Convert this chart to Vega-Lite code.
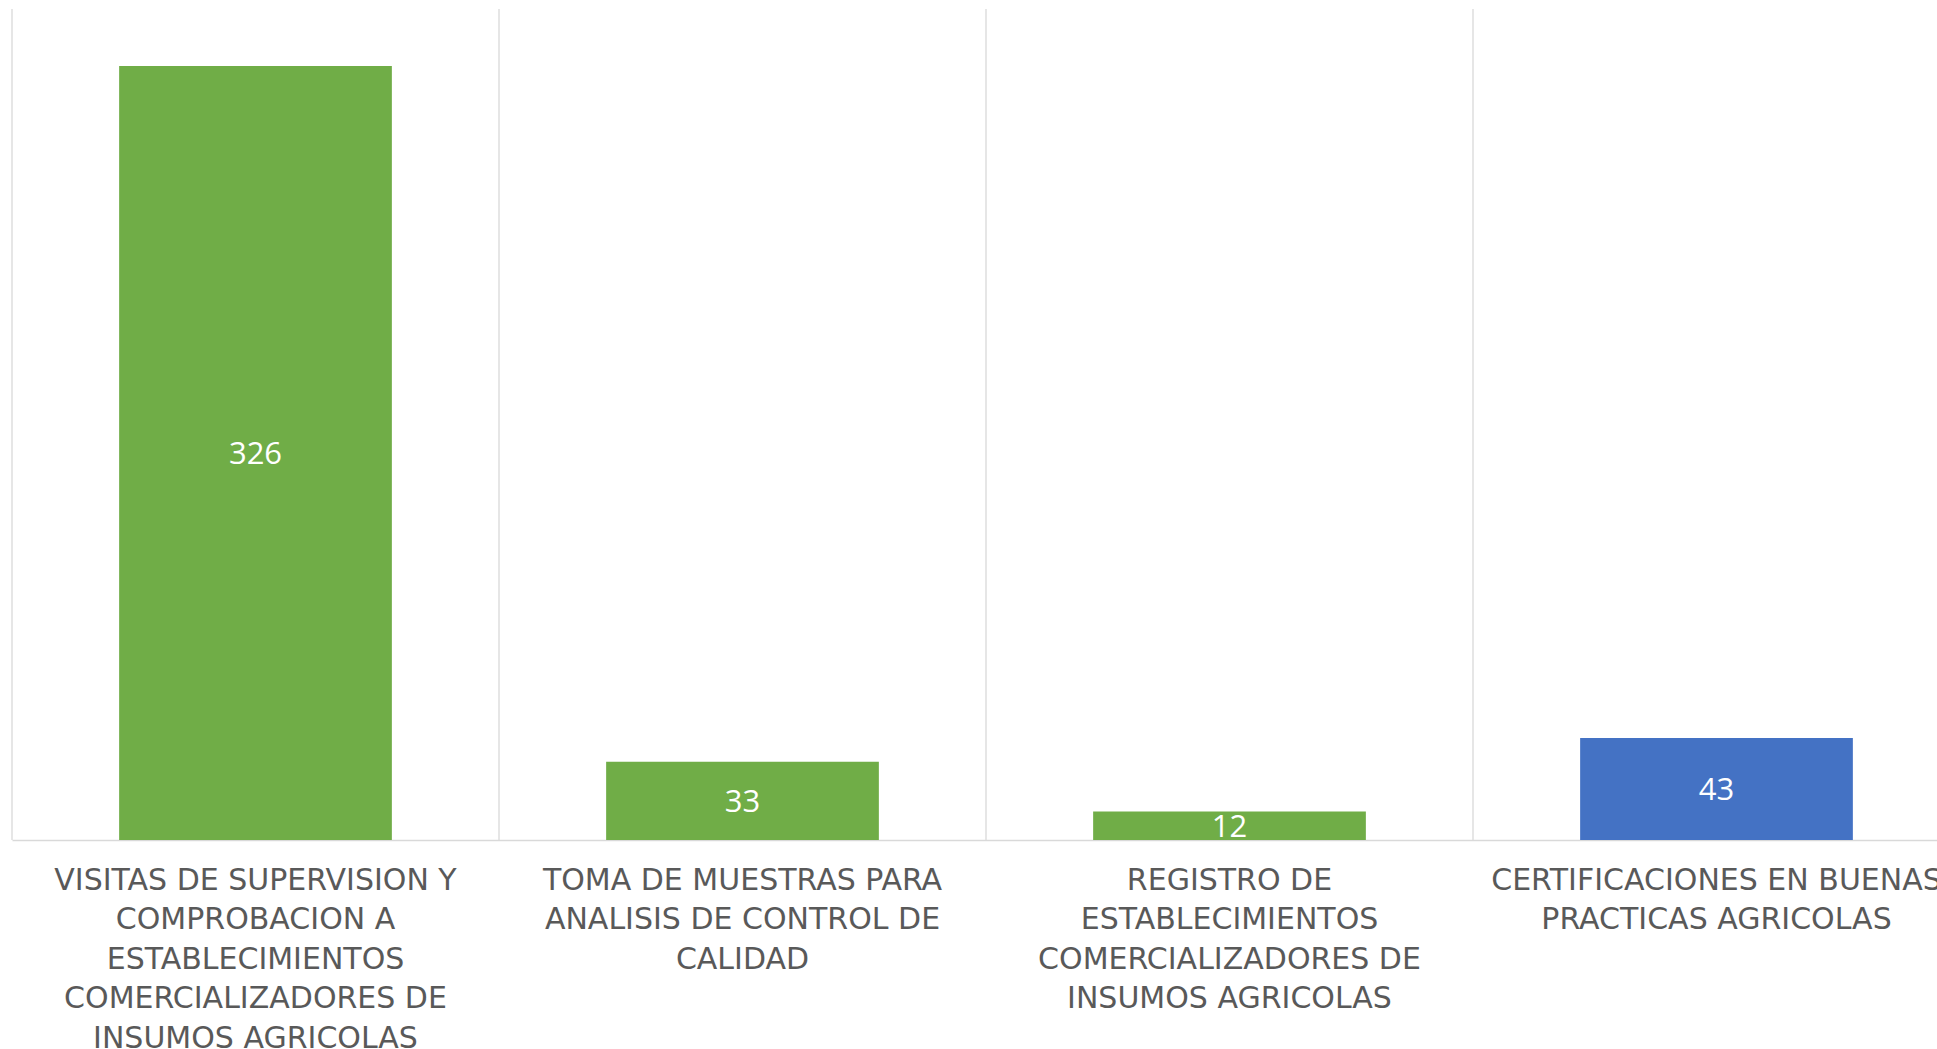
{
  "$schema": "https://vega.github.io/schema/vega-lite/v6.json",
  "autosize": {"type": "none"},
  "width": 1925,
  "height": 831,
  "padding": {"left": 12, "top": 9, "right": 0, "bottom": 209},
  "background": "white",
  "config": {"view": {"stroke": null}},
  "data": {
    "values": [
      {"categoria": "VISITAS DE SUPERVISION Y COMPROBACION A ESTABLECIMIENTOS COMERCIALIZADORES DE INSUMOS AGRICOLAS", "valor": 326, "grupo": "verde"},
      {"categoria": "TOMA DE MUESTRAS PARA ANALISIS DE CONTROL DE CALIDAD", "valor": 33, "grupo": "verde"},
      {"categoria": "REGISTRO DE ESTABLECIMIENTOS COMERCIALIZADORES DE INSUMOS AGRICOLAS", "valor": 12, "grupo": "verde"},
      {"categoria": "CERTIFICACIONES EN BUENAS PRACTICAS AGRICOLAS", "valor": 43, "grupo": "azul"}
    ]
  },
  "encoding": {
    "x": {
      "field": "categoria",
      "type": "nominal",
      "sort": null,
      "scale": {"range": [0, 1948], "paddingInner": 0, "paddingOuter": 0},
      "axis": {
        "title": null,
        "grid": false,
        "ticks": false,
        "domain": true,
        "domainColor": "#D9D9D9",
        "domainWidth": 1.5,
        "labelAngle": 0,
        "labelAlign": "center",
        "labelBaseline": "top",
        "labelFont": "DejaVu Sans",
        "labelFontSize": 30,
        "labelColor": "#595959",
        "labelLineHeight": 39.5,
        "labelPadding": 25,
        "labelLimit": 0,
        "labelOverlap": false,
        "labelBound": false,
        "labelFlush": false,
        "labelExpr": "indexof(datum.value, 'VISITAS') == 0 ? ['VISITAS DE SUPERVISION Y','COMPROBACION A','ESTABLECIMIENTOS','COMERCIALIZADORES DE','INSUMOS AGRICOLAS'] : indexof(datum.value, 'TOMA') == 0 ? ['TOMA DE MUESTRAS PARA','ANALISIS DE CONTROL DE','CALIDAD'] : indexof(datum.value, 'REGISTRO') == 0 ? ['REGISTRO DE','ESTABLECIMIENTOS','COMERCIALIZADORES DE','INSUMOS AGRICOLAS'] : indexof(datum.value, 'CERTIFICACIONES') == 0 ? ['CERTIFICACIONES EN BUENAS','PRACTICAS AGRICOLAS'] : ''"
      }
    }
  },
  "layer": [
    {
      "mark": {"type": "rule", "color": "#D9D9D9", "strokeWidth": 1.3},
      "encoding": {
        "x": {"field": "categoria", "type": "nominal", "sort": null, "bandPosition": 0}
      }
    },
    {
      "mark": {"type": "bar", "width": {"band": 0.56}},
      "encoding": {
        "y": {"field": "valor", "type": "quantitative", "scale": {"domain": [0, 350], "nice": false}, "axis": null},
        "color": {"field": "grupo", "type": "nominal", "scale": {"domain": ["verde", "azul"], "range": ["#70AD47", "#4472C4"]}, "legend": null}
      }
    },
    {
      "mark": {"type": "text", "color": "white", "font": "Open Sans", "fontSize": 31, "baseline": "middle", "align": "center", "dy": 2},
      "encoding": {
        "y": {"field": "valor", "type": "quantitative", "scale": {"domain": [0, 700], "nice": false}, "axis": null},
        "text": {"field": "valor", "type": "quantitative"}
      }
    }
  ],
  "resolve": {"scale": {"y": "independent"}}
}
